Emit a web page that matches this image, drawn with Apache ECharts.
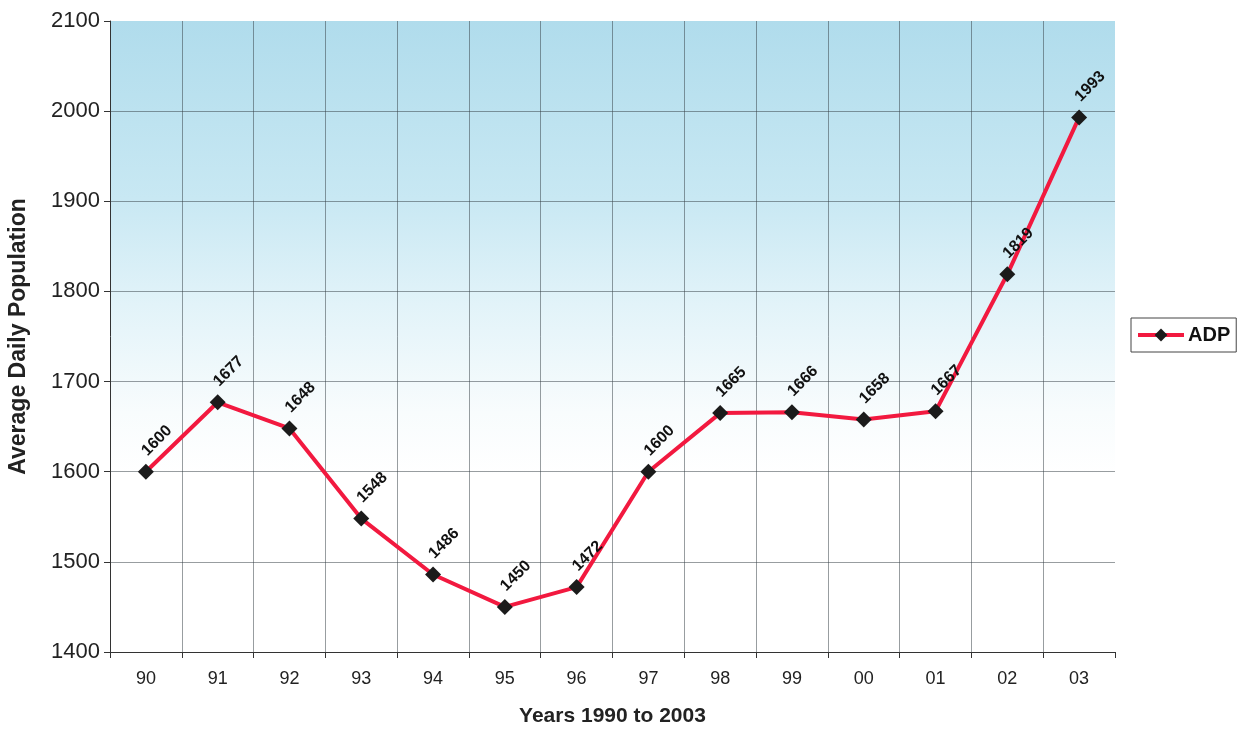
<!DOCTYPE html>
<html>
<head>
<meta charset="utf-8">
<script src="https://cdn.jsdelivr.net/npm/echarts@6/dist/echarts.min.js"></script>
<style>
  html, body { margin: 0; padding: 0; background: #ffffff; }
  #chart { width: 1247px; height: 729px; }
</style>
</head>
<body>
<div id="chart"></div>
<script>
// Average daily population by year
const years = ['90', '91', '92', '93', '94', '95', '96', '97', '98', '99', '00', '01', '02', '03'];
const adp = [1600, 1677, 1648, 1548, 1486, 1450, 1472, 1600, 1665, 1666, 1658, 1667, 1819, 1993];
const seriesName = 'ADP';
const xTitle = 'Years 1990 to 2003';
const yTitle = 'Average Daily Population';

const chart = echarts.init(document.getElementById('chart'), null, { renderer: 'canvas' });

const font = 'Liberation Sans, Arial, sans-serif';
const gridColor = 'rgba(50, 60, 65, 0.5)';

chart.setOption({
  animation: false,
  backgroundColor: '#ffffff',
  grid: {
    left: 110,
    right: 132,
    top: 21,
    bottom: 77,
    containLabel: false,
    outerBoundsMode: 'none',
    show: true,
    borderWidth: 0,
    backgroundColor: {
      type: 'linear', x: 0, y: 0, x2: 0, y2: 1,
      colorStops: [
        { offset: 0, color: '#b0dcec' },
        { offset: 0.28, color: '#c8e8f3' },
        { offset: 0.45, color: '#e2f3f9' },
        { offset: 0.62, color: '#f8fcfd' },
        { offset: 0.72, color: '#ffffff' },
        { offset: 1, color: '#ffffff' }
      ]
    }
  },
  legend: {
    data: [seriesName],
    left: 1131,
    top: 318,
    orient: 'vertical',
    backgroundColor: '#ffffff',
    borderColor: '#444',
    borderWidth: 1,
    borderRadius: 0,
    padding: [7, 6, 7, 5],
    itemWidth: 46,
    itemHeight: 16,
    itemGap: 0,
    lineStyle: { width: 4, color: '#f2193f' },
    textStyle: { fontFamily: font, fontSize: 20, fontWeight: 'bold', color: '#111', padding: [0, 0, 0, -1] }
  },
  xAxis: {
    type: 'category',
    data: years,
    boundaryGap: true,
    name: xTitle,
    nameLocation: 'middle',
    nameGap: 54,
    nameTextStyle: { fontFamily: font, fontSize: 21, fontWeight: 'bold', color: '#222' },
    axisLine: { show: true, lineStyle: { color: '#333', width: 1 } },
    axisTick: { show: true, alignWithLabel: false, length: 6, lineStyle: { color: '#333' } },
    axisLabel: { fontFamily: font, fontSize: 18, color: '#222', margin: 18 },
    splitLine: { show: true, showMinLine: false, showMaxLine: false, lineStyle: { color: gridColor, width: 1 } }
  },
  yAxis: {
    type: 'value',
    min: 1400,
    max: 2100,
    interval: 100,
    name: yTitle,
    nameLocation: 'middle',
    nameGap: 80,
    nameTextStyle: { fontFamily: font, fontSize: 23, fontWeight: 'bold', color: '#222' },
    axisLine: { show: true, lineStyle: { color: '#333', width: 1 } },
    axisTick: { show: true, length: 6, lineStyle: { color: '#333' } },
    axisLabel: {
      fontFamily: font, fontSize: 22, color: '#222', margin: 10,
      formatter: (v) => String(v)
    },
    splitLine: { show: true, showMinLine: false, showMaxLine: false, lineStyle: { color: gridColor, width: 1 } }
  },
  series: [{
    name: seriesName,
    type: 'line',
    data: adp,
    symbol: 'diamond',
    symbolSize: 16,
    showAllSymbol: true,
    lineStyle: { color: '#f2193f', width: 4 },
    itemStyle: { color: '#1b1b1b', borderColor: '#000', borderWidth: 0 },
    label: {
      show: true,
      position: [19, -23],
      rotate: 45,
      align: 'center',
      verticalAlign: 'middle',
      fontFamily: font,
      fontSize: 16,
      fontWeight: 'bold',
      color: '#111'
    },
    emphasis: { disabled: true },
    z: 3
  }]
});
</script>
</body>
</html>
